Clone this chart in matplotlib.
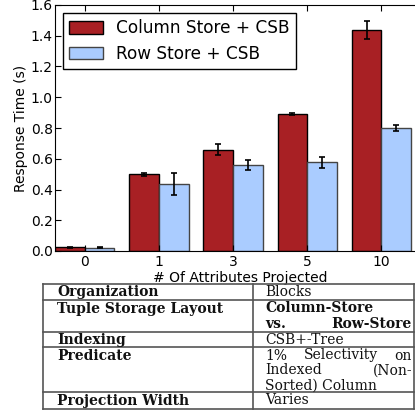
import numpy as np
import matplotlib.pyplot as plt

# data
attrs = ["0", "1", "3", "5", "10"]
col_store = [0.024, 0.500, 0.658, 0.892, 1.436]
col_err = [0.005, 0.010, 0.035, 0.008, 0.058]
row_store = [0.022, 0.437, 0.558, 0.577, 0.800]
row_err = [0.004, 0.070, 0.033, 0.037, 0.018]

row_names = ["Organization", "Tuple Storage Layout", "Indexing", "Predicate", "Projection Width"]
row_values = [["Blocks"], ["Column-Store", "vs. Row-Store"], ["CSB+-Tree"],
              ["1% Selectivity on", "Indexed (Non-", "Sorted) Column"], ["Varies"]]
bold_values = [False, True, False, False, False]
justified = ["vs. Row-Store", "1% Selectivity on", "Indexed (Non-"]

W, H = 415, 413
fig = plt.figure(figsize=(W / 100, H / 100), dpi=100)

def fx(px):
    return px / W

def fy(py):
    return 1 - py / H

ax = fig.add_axes([fx(55), fy(251), fx(371), 246 / H])
x = np.arange(len(attrs))
ekw = dict(ecolor="black", elinewidth=1.2, capsize=2.5, capthick=1.2)
ax.bar(x - 0.4, col_store, 0.4, align="edge", color="#a82024", edgecolor="black",
       linewidth=1, yerr=col_err, error_kw=ekw, label="Column Store + CSB")
ax.bar(x, row_store, 0.4, align="edge", color="#aaccff", edgecolor="#444444",
       linewidth=1, yerr=row_err, error_kw=ekw, label="Row Store + CSB")

ax.set_xlim(-0.4, 4.6)
ax.set_ylim(0, 1.6)
ax.set_xticks(x)
ax.set_xticklabels(attrs)
ax.set_yticks(np.arange(0, 1.61, 0.2))
ax.tick_params(direction="in", top=True, right=True, length=4, labelsize=10)
ax.tick_params(axis="y", pad=1.5)
ax.tick_params(axis="x", pad=3)
ax.set_ylabel("Response Time (s)", fontsize=10, labelpad=2)
ax.set_xlabel("# Of Attributes Projected", fontsize=10, labelpad=1)
leg = ax.legend(loc="upper left", fontsize=12.2, fancybox=False, edgecolor="black",
                framealpha=1, borderaxespad=0.5, handlelength=2.0, handleheight=0.75,
                handletextpad=0.75, labelspacing=0.45, borderpad=0.35)
leg.get_frame().set_linewidth(1)

# parameter table under the chart
left, mid, right = 43, 253, 414
hlines = [284, 300, 332, 347, 392, 409]
line_y = [[292], [308.5, 324], [340], [355.5, 370.5, 385.5], [400.5]]
tcol = "#555555"
for yy in hlines:
    fig.add_artist(plt.Line2D([fx(left), fx(right)], [fy(yy), fy(yy)], color=tcol, lw=1.2))
for xx in [left, mid, right]:
    fig.add_artist(plt.Line2D([fx(xx), fx(xx)], [fy(hlines[0]), fy(hlines[-1])], color=tcol, lw=1.2))

renderer = fig.canvas.get_renderer()
tfont = dict(family="DejaVu Serif", fontsize=10, color="#111111", va="center")

def put_line(x0, x1, y, line, weight):
    if line not in justified:
        fig.text(fx(x0), fy(y), line, fontweight=weight, **tfont)
        return
    words = line.split()
    texts = [fig.text(0, fy(y), w, fontweight=weight, **tfont) for w in words]
    widths = [t.get_window_extent(renderer).width for t in texts]
    gap = ((x1 - x0) - sum(widths)) / (len(words) - 1)
    pos = x0
    for t, w in zip(texts, widths):
        t.set_x(fx(pos))
        pos += w + gap

for name, vals, bold, ys in zip(row_names, row_values, bold_values, line_y):
    fig.text(fx(57), fy(ys[0]), name, fontweight="bold", **tfont)
    for v, yy in zip(vals, ys):
        put_line(265, 412, yy, v, "bold" if bold else "normal")

fig.savefig("out.png", dpi=100)
